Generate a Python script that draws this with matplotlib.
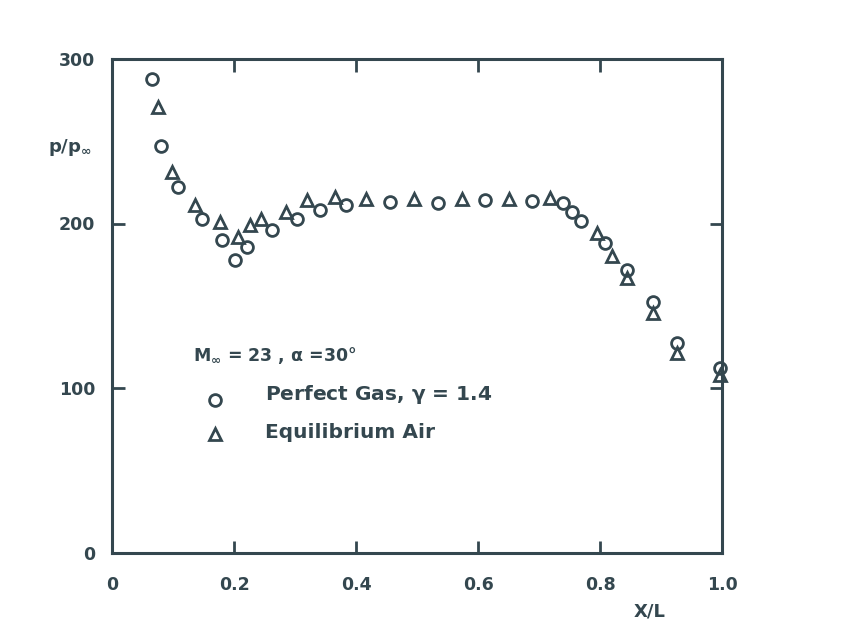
import matplotlib
matplotlib.use("Agg")
import matplotlib.pyplot as plt

plt.rcParams['font.family'] = ['DejaVu Sans']
plt.rcParams['mathtext.fontset'] = 'dejavusans'
plt.rcParams['mathtext.default'] = 'bf'

INK = '#34474f'

# Perfect gas (circles)
x_perfect = [0.065, 0.081, 0.109, 0.147, 0.180, 0.202, 0.221, 0.262, 0.303,
             0.341, 0.384, 0.456, 0.535, 0.611, 0.688, 0.740, 0.754, 0.769,
             0.808, 0.845, 0.887, 0.926, 0.997]
p_perfect = [288, 247, 222, 202.5, 190, 178, 185.5, 196, 203,
             208, 211, 213, 212.6, 214, 213.9, 212.6, 207.2, 201.7,
             188, 172, 152.5, 127.5, 112]

# Equilibrium air (triangles)
x_equil = [0.076, 0.098, 0.136, 0.177, 0.207, 0.226, 0.245, 0.286, 0.320,
           0.366, 0.416, 0.495, 0.573, 0.650, 0.718, 0.795, 0.819, 0.845,
           0.887, 0.926, 0.997]
p_equil = [271, 231.5, 211, 201, 192, 199, 202.5, 207, 214,
           216, 215, 215, 215, 215, 215.3, 194, 180, 166.7,
           145.4, 121, 108]

x_ticks = [0, 0.2, 0.4, 0.6, 0.8, 1.0]
x_tick_labels = ['0', '0.2', '0.4', '0.6', '0.8', '1.0']
y_ticks = [0, 100, 200, 300]
y_tick_labels = ['0', '100', '200', '300']

fig = plt.figure(figsize=(8.54, 6.31), dpi=100)
ax = fig.add_axes([112/854, (631-552.5)/631, 610/854, 493.5/631])

ax.plot(x_perfect, p_perfect, linestyle='none', marker='o', ms=8.5,
        mfc='none', mec=INK, mew=2.0, clip_on=False)
ax.plot(x_equil, p_equil, linestyle='none', marker='^', ms=9,
        mfc='none', mec=INK, mew=2.0, clip_on=False)

ax.set_xlim(0, 1.0)
ax.set_ylim(0, 300)
ax.set_xticks(x_ticks)
ax.set_xticklabels(x_tick_labels)
ax.set_yticks(y_ticks)
ax.set_yticklabels(y_tick_labels)

for s in ax.spines.values():
    s.set_color(INK)
    s.set_linewidth(2.2)

ax.tick_params(axis='both', which='both', direction='in', length=9, width=2.0,
               color=INK, labelcolor=INK, top=True, right=True,
               labelsize=12.5)
ax.tick_params(axis='x', pad=17)
ax.tick_params(axis='y', pad=12)
for lab in ax.get_xticklabels() + ax.get_yticklabels():
    lab.set_fontweight('bold')

fig.text(70/854, 1 - 147/631, r'$p/p_{\infty}$', color=INK, fontsize=13,
         ha='center', va='center')
fig.text(650/854, 1 - 612/631, 'X/L', color=INK, fontsize=13,
         fontweight='bold', ha='center', va='center')

fig.text(193/854, 1 - 355/631, r'M$_{\infty}$ = 23 , $\alpha$ =30°', color=INK,
         fontsize=12.5, fontweight='bold', ha='left', va='center')
fig.text(265/854, 1 - 395/631, r'Perfect Gas, $\gamma$ = 1.4', color=INK,
         fontsize=14.5, fontweight='bold', ha='left', va='center')
fig.text(265/854, 1 - 432/631, 'Equilibrium Air', color=INK,
         fontsize=14.5, fontweight='bold', ha='left', va='center')

fig.lines.append(plt.Line2D([215/854], [1 - 400/631], transform=fig.transFigure,
                            marker='o', ms=8.5, mfc='none', mec=INK, mew=2.0,
                            linestyle='none'))
fig.lines.append(plt.Line2D([215/854], [1 - 434/631], transform=fig.transFigure,
                            marker='^', ms=9, mfc='none', mec=INK, mew=2.0,
                            linestyle='none'))

fig.savefig('out.png', dpi=100, facecolor='white')
